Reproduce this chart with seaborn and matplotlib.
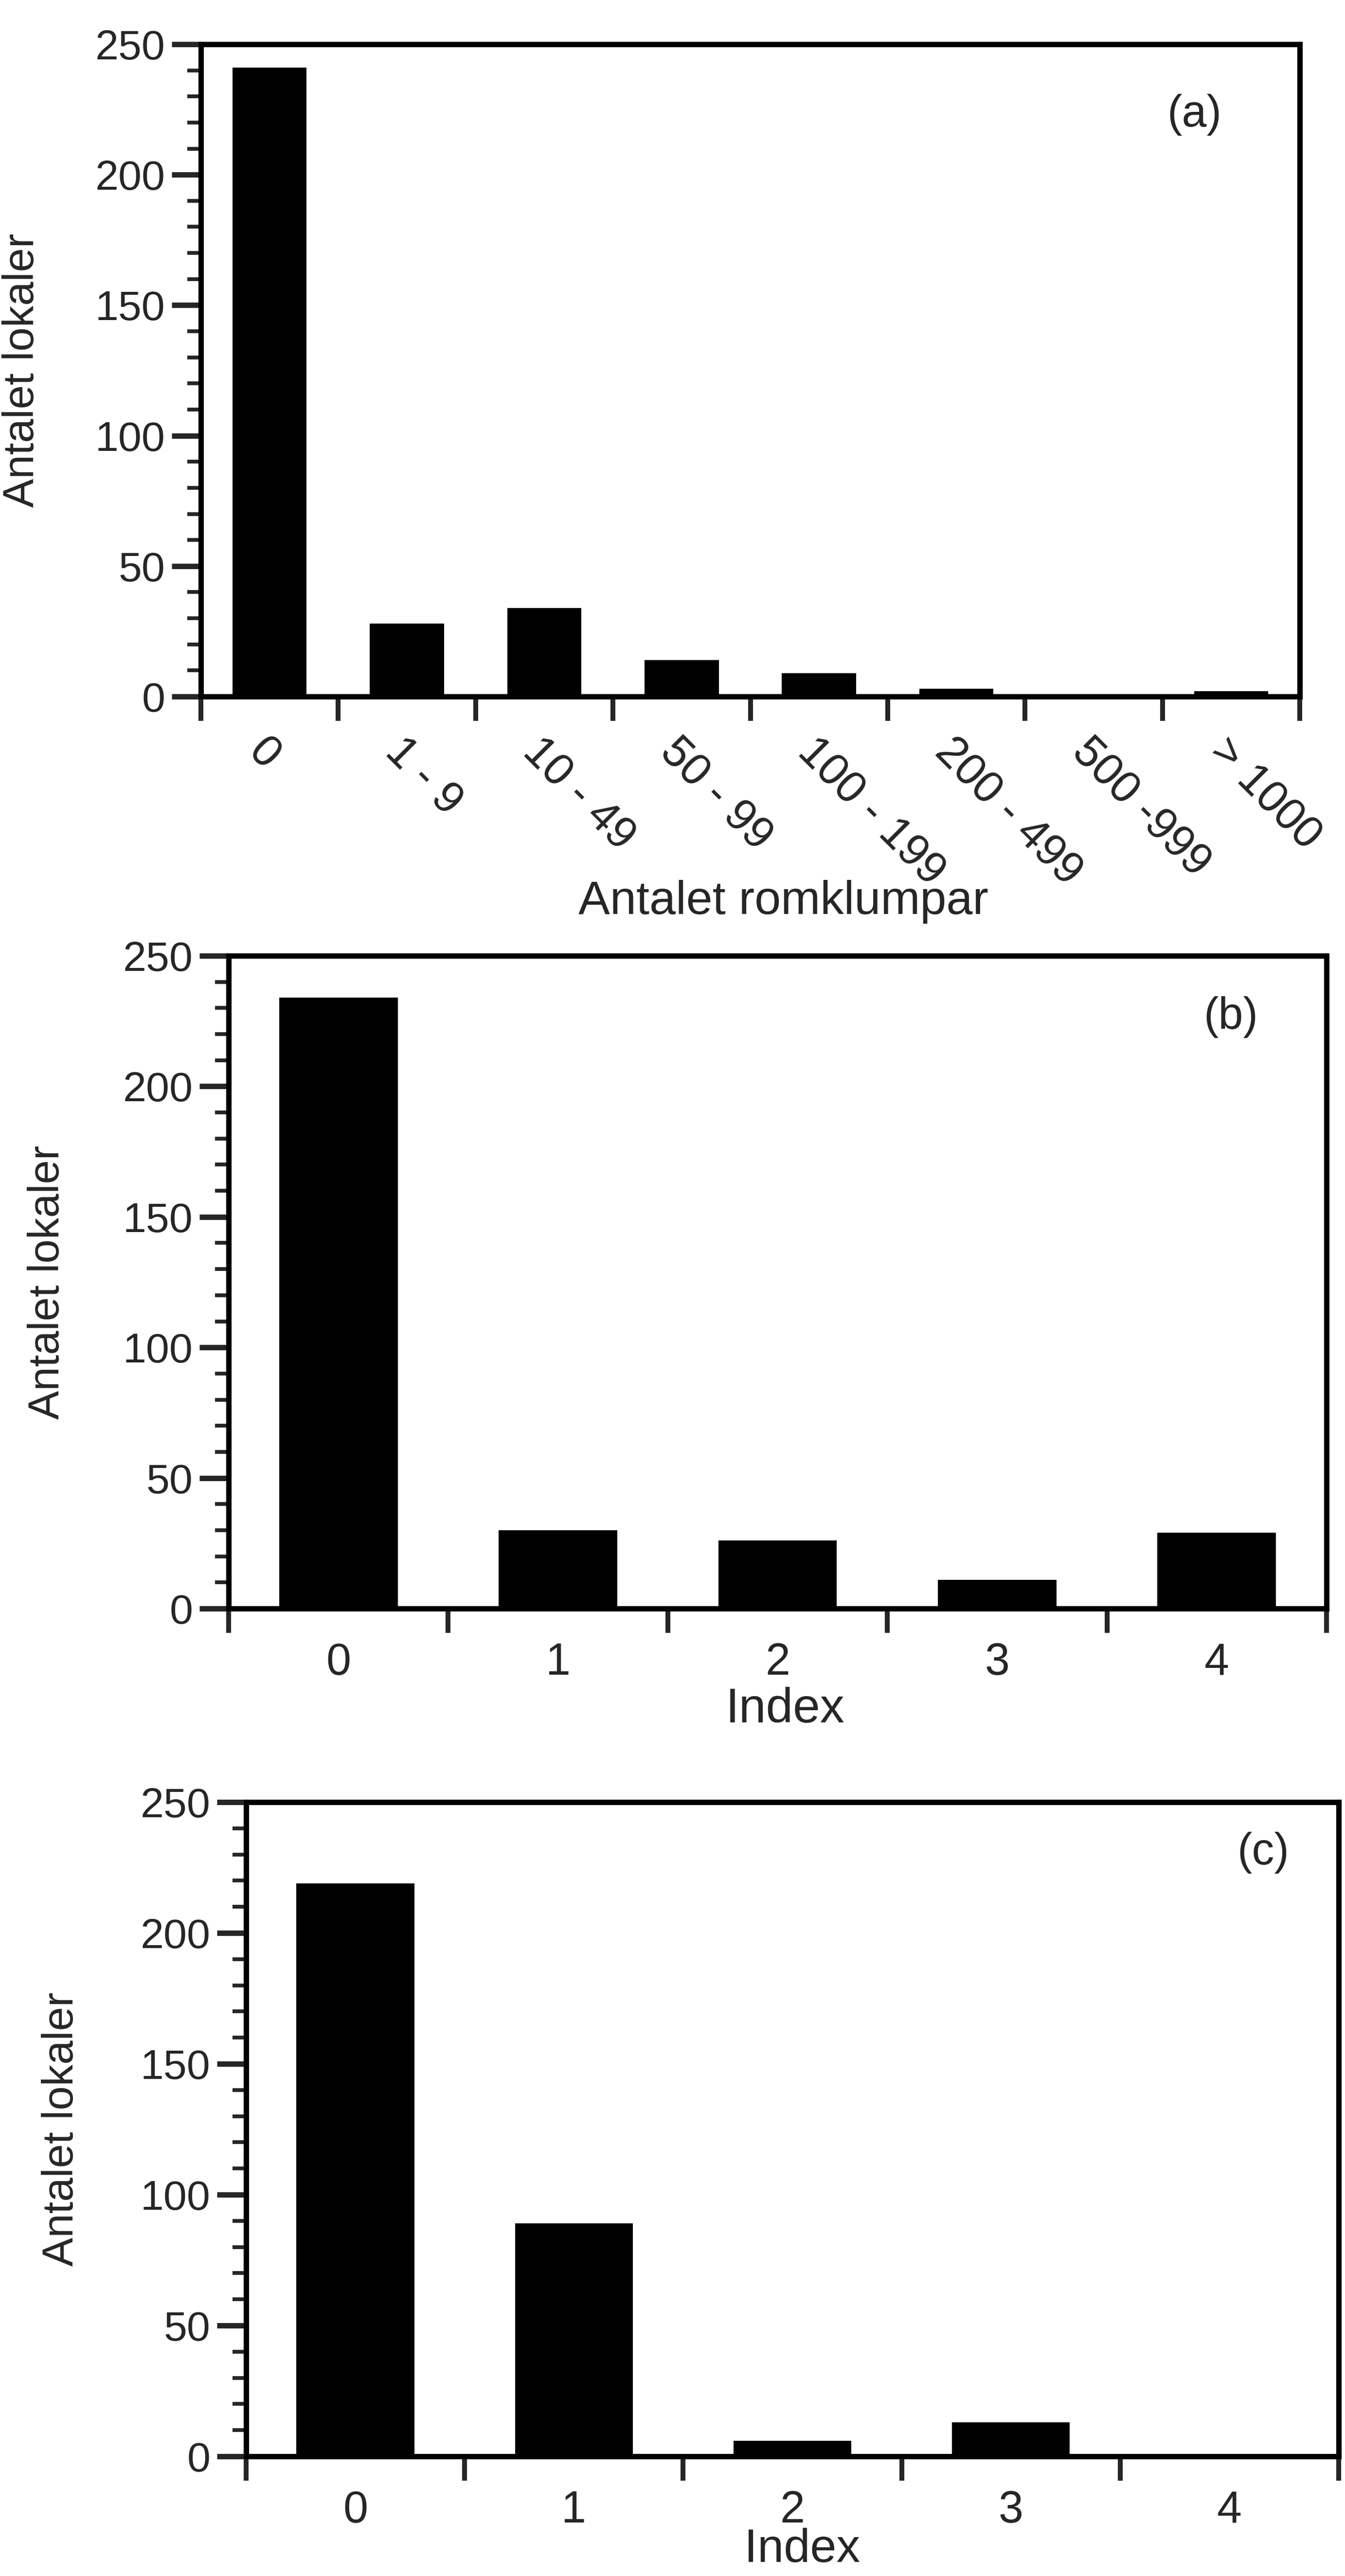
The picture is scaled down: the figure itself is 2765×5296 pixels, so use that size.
import numpy as np
import matplotlib
matplotlib.use("Agg")
import matplotlib.pyplot as plt
import seaborn as sns
from matplotlib.ticker import MultipleLocator

# ---- data ----
cats_a = ["0", "1 - 9", "10 - 49", "50 - 99", "100 - 199", "200 - 499", "500 -999", "> 1000"]
vals_a = [241, 28, 34, 14, 9, 3, 1, 2]
cats_idx = ["0", "1", "2", "3", "4"]
vals_b = [234, 30, 26, 11, 29]
vals_c = [219, 89, 6, 13, 1]
ylabel = "Antalet lokaler"
xlabel_a = "Antalet romklumpar"
xlabel_bc = "Index"
tags = ["(a)", "(b)", "(c)"]

sns.set_style("ticks")
plt.rcParams["font.family"] = ["Liberation Sans", "DejaVu Sans"]

W, H = 2765, 5296
fig = plt.figure(figsize=(W / 100, H / 100), dpi=100)


def frac(left, right, top, bottom):
    return [left / W, 1 - bottom / H, (right - left) / W, (bottom - top) / H]


ax_a = fig.add_axes(frac(413, 2672, 91, 1432))
ax_b = fig.add_axes(frac(470, 2727, 1965, 3307))
ax_c = fig.add_axes(frac(506, 2752, 3705, 5050))

LW = 8.0
TICK_FS = 62


def style(ax, cats, vals, tag, tagpos, rot=False):
    sns.barplot(x=cats, y=vals, order=cats, color="black", saturation=1,
                width=0.54, linewidth=0, ax=ax)
    n = len(cats)
    ax.set_xlim(-0.5, n - 0.5)
    ax.set_ylim(0, 250)
    ax.set_xticks(np.arange(-0.5, n, 1.0))
    ax.set_xticklabels([])
    ax.set_xticks(np.arange(n), minor=True)
    if rot:
        ax.set_xticklabels(cats, minor=True, rotation=-45, ha="left",
                           rotation_mode="anchor", fontsize=TICK_FS + 4)
    else:
        ax.set_xticklabels(cats, minor=True, fontsize=TICK_FS + 4)
    ax.yaxis.set_major_locator(MultipleLocator(50))
    ax.yaxis.set_minor_locator(MultipleLocator(10))
    ax.tick_params(axis="x", which="major", direction="out", length=36, width=LW * 0.9)
    ax.tick_params(axis="x", which="minor", length=0, pad=50)
    ax.tick_params(axis="y", which="major", direction="out", length=43, width=LW,
                   labelsize=TICK_FS, pad=10)
    ax.tick_params(axis="y", which="minor", direction="out", length=20, width=LW * 0.7)
    for s in ax.spines.values():
        s.set_visible(True)
        s.set_linewidth(LW)
        s.set_color("black")
    ax.set_xlabel("")
    ax.set_ylabel(ylabel, fontsize=64)
    ax.text(tagpos[0], tagpos[1], tag, transform=ax.transAxes, ha="center",
            va="center", fontsize=66)


style(ax_a, cats_a, vals_a, tags[0], (0.904, 0.892), rot=True)
style(ax_b, cats_idx, vals_b, tags[1], (0.913, 0.906))
style(ax_c, cats_idx, vals_c, tags[2], (0.931, 0.923))

ax_a.yaxis.set_label_coords(-0.144, 0.5)
ax_b.yaxis.set_label_coords(-0.146, 0.5)
ax_c.yaxis.set_label_coords(-0.150, 0.5)

ax_a.text(0.53, -0.315, xlabel_a, transform=ax_a.transAxes, ha="center",
          va="center", fontsize=70)
ax_b.text(0.507, -0.155, xlabel_bc, transform=ax_b.transAxes, ha="center",
          va="center", fontsize=72)
ax_c.text(0.509, -0.143, xlabel_bc, transform=ax_c.transAxes, ha="center",
          va="center", fontsize=70)

fig.savefig("out.png", dpi=100, facecolor="white")
